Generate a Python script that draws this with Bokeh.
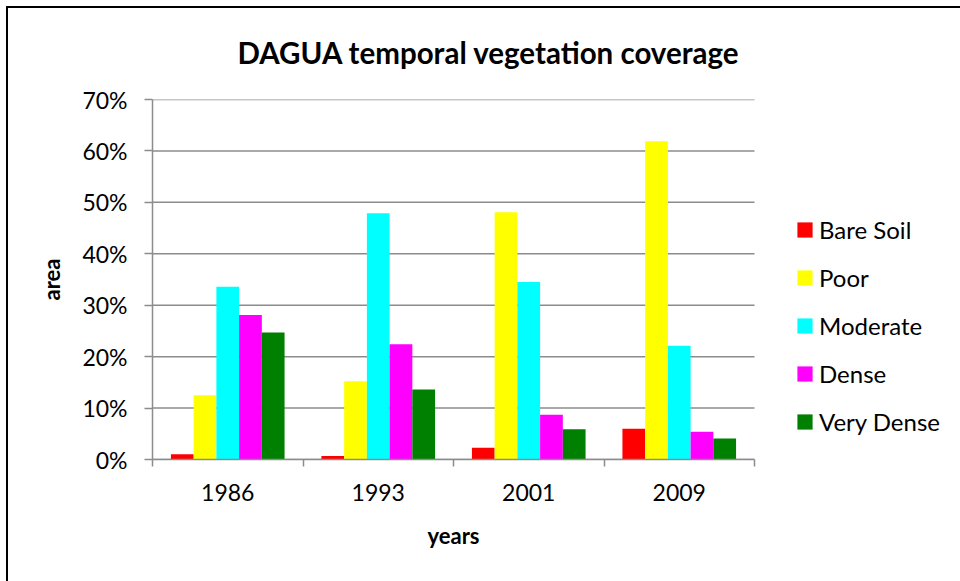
from bokeh.plotting import figure
from bokeh.models import (Range1d, FixedTicker, NumeralTickFormatter, Legend, LegendItem,
                          ColumnDataSource, Title)
from bokeh.transform import dodge
from bokeh.embed import file_html
from bokeh.resources import INLINE

years = ["1986", "1993", "2001", "2009"]
series = ["Bare Soil", "Poor", "Moderate", "Dense", "Very Dense"]
colors = ["#FF0000", "#FFFF00", "#00FFFF", "#FF00FF", "#008000"]
bare_soil = [0.010, 0.007, 0.023, 0.060]
poor = [0.125, 0.152, 0.481, 0.619]
moderate = [0.336, 0.479, 0.345, 0.221]
dense = [0.281, 0.224, 0.087, 0.054]
very_dense = [0.247, 0.136, 0.059, 0.041]
y_ticks = [0.0, 0.1, 0.2, 0.3, 0.4, 0.5, 0.6, 0.7]

values = [bare_soil, poor, moderate, dense, very_dense]
FONT = "Lato"
GRAY = "#8c8c8c"

W, H = 960, 581
LEFT, RIGHT, TOP, BOTTOM = 152, 6, 99, 122
PLOT_W = 602  # pixel width of the category part of the frame
n = len(years)
x_end = n * (W - LEFT - RIGHT) / PLOT_W

p = figure(width=W, height=H, output_backend="svg", toolbar_location=None,
           x_range=Range1d(0, x_end), y_range=Range1d(0, 0.7),
           min_border_left=LEFT, min_border_right=RIGHT, min_border_top=TOP,
           min_border_bottom=BOTTOM)
p.outline_line_color = None
p.border_fill_alpha = 0
p.background_fill_color = "#ffffff"
p.styles = {
    "background-color": "#ffffff",
    "background-image": "linear-gradient(#000000, #000000), linear-gradient(#000000, #000000)",
    "background-size": "100% 2px, 2px 100%",
    "background-position": "6px 6px, 6px 6px",
    "background-repeat": "no-repeat",
}

# horizontal gridlines only across the category area
p.xgrid.grid_line_color = None
p.ygrid.grid_line_color = None
p.segment(x0=[0] * len(y_ticks), x1=[n] * len(y_ticks), y0=y_ticks, y1=y_ticks,
          line_color=GRAY, line_width=1.5)

centers = [i + 0.5 for i in range(n)]
data = {"x": centers}
for s, v in zip(series, values):
    data[s] = v
src = ColumnDataSource(data)

bw = 0.151
items = []
for k, (s, c) in enumerate(zip(series, colors)):
    r = p.vbar(x=dodge("x", (k - 2) * bw), top=s, width=bw, bottom=0, source=src,
               fill_color=c, line_color=None)
    items.append(LegendItem(label=s, renderers=[r]))

# y axis
p.yaxis.ticker = FixedTicker(ticks=y_ticks)
p.yaxis.formatter = NumeralTickFormatter(format="0%")
p.yaxis.axis_line_color = GRAY
p.yaxis.axis_line_width = 1.5
p.yaxis.major_tick_line_color = GRAY
p.yaxis.major_tick_line_width = 1.5
p.yaxis.major_tick_out = 8
p.yaxis.major_tick_in = 0
p.yaxis.minor_tick_line_color = None
p.yaxis.major_label_standoff = 17
p.yaxis.major_label_text_font = FONT
p.yaxis.major_label_text_font_size = "23px"
p.yaxis.major_label_text_color = "#000000"
p.yaxis.axis_label = "area"
p.yaxis.axis_label_text_font = FONT
p.yaxis.axis_label_text_font_size = "22px"
p.yaxis.axis_label_text_font_style = "bold"
p.yaxis.axis_label_text_color = "#000000"
p.yaxis.axis_label_standoff = 14

# x axis
p.xaxis.bounds = (0, n)
p.xaxis.ticker = FixedTicker(ticks=centers, minor_ticks=list(range(n + 1)))
p.xaxis.major_label_overrides = {c: y for c, y in zip(centers, years)}
p.xaxis.axis_line_color = GRAY
p.xaxis.axis_line_width = 1.5
p.xaxis.major_tick_line_color = None
p.xaxis.major_tick_out = 0
p.xaxis.major_tick_in = 0
p.xaxis.minor_tick_line_color = GRAY
p.xaxis.minor_tick_line_width = 1.5
p.xaxis.minor_tick_out = 7
p.xaxis.minor_tick_in = 0
p.xaxis.major_label_standoff = 17
p.xaxis.major_label_text_font = FONT
p.xaxis.major_label_text_font_size = "23px"
p.xaxis.major_label_text_color = "#000000"

# x axis title, centred under the category area
xlabel = Title(text="years", align="left", offset=275, standoff=33,
               text_font=FONT, text_font_size="22px", text_font_style="bold",
               text_color="#000000")
p.add_layout(xlabel, "below")

legend = Legend(items=items, location=(643, 23), padding=0, margin=0,
                glyph_width=19, glyph_height=19, label_standoff=5,
                label_height=24, spacing=19, border_line_color=None,
                background_fill_alpha=0,
                label_text_font=FONT, label_text_font_size="24px",
                label_text_color="#000000")
p.add_layout(legend, "center")

p.title.text = "DAGUA temporal vegetation coverage"
p.title.align = "left"
p.title.offset = 85
p.title.standoff = 60
p.title.text_font = FONT
p.title.text_font_size = "29.5px"
p.title.text_font_style = "bold"
p.title.text_color = "#000000"

open("out.html", "w").write(file_html(p, INLINE))
